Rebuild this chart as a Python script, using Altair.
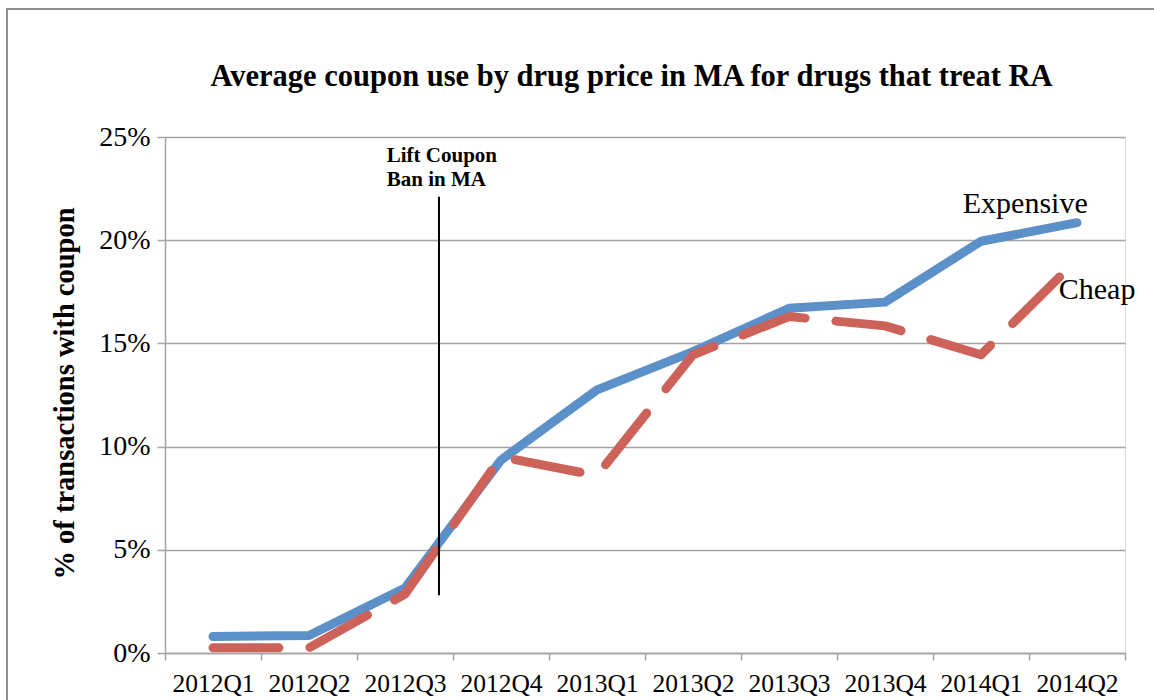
import altair as alt
import pandas as pd

# Quarterly share of RA drug transactions that used a coupon, Massachusetts
quarters = ["2012Q1", "2012Q2", "2012Q3", "2012Q4", "2013Q1",
            "2013Q2", "2013Q3", "2013Q4", "2014Q1", "2014Q2"]
expensive = [0.0080, 0.0085, 0.0315, 0.0935, 0.1275,
             0.1460, 0.1670, 0.1700, 0.1995, 0.2085]
cheap = [0.0025, 0.0025, 0.0285, 0.0950, 0.0860,
         0.1445, 0.1630, 0.1585, 0.1445, 0.1905]

# Direct labels for the two series
series_names = ["Expensive", "Cheap"]
series_label_quarter = ["2014Q1", "2014Q2"]
series_label_value = [0.2132, 0.1715]

# Policy-change marker
event_quarter = "2012Q3"
event_lines = ["Lift Coupon", "Ban in MA"]
event_line_value = [0.2377, 0.2264]
event_top = 0.221
event_bottom = 0.028

chart_title = "Average coupon use by drug price in MA for drugs that treat RA"

SERIF = "Liberation Serif"
GRID = "#a3a3a3"
BLUE = "#5b90c9"
RED = "#cc6259"

lines_df = pd.DataFrame({
    "quarter": quarters * 2,
    "value": expensive + cheap,
    "series": ["Expensive"] * len(quarters) + ["Cheap"] * len(quarters),
})
labels_df = pd.DataFrame({"quarter": series_label_quarter,
                          "value": series_label_value,
                          "text": series_names})
event_text_df = pd.DataFrame({"quarter": [event_quarter] * len(event_lines),
                              "value": event_line_value,
                              "text": event_lines})
event_rule_df = pd.DataFrame({"quarter": [event_quarter],
                              "value": [event_top], "value2": [event_bottom]})
single_df = pd.DataFrame({"text": [chart_title]})

x_axis = alt.Axis(
    title=None, labelAngle=0, tickBand="extent", grid=False,
    labelFont=SERIF, labelFontSize=25.5, labelColor="black",
    labelBaseline="alphabetic", labelPadding=31,
    tickSize=7, tickColor=GRID, tickWidth=1.5,
    domainColor=GRID, domainWidth=1.5,
)
y_axis = alt.Axis(
    values=[0, 0.05, 0.10, 0.15, 0.20, 0.25], format=".0%",
    title="% of transactions with coupon",
    titleFont=SERIF, titleFontSize=28.5, titleFontWeight="bold", titleColor="black",
    titleX=-101, titleY=256, titleBaseline="middle",
    labelFont=SERIF, labelFontSize=28, labelColor="black", labelPadding=7,
    tickSize=8, tickColor=GRID, tickWidth=1.5,
    grid=True, gridColor=GRID, gridWidth=1.5,
    domainColor=GRID, domainWidth=1.5,
)
x_scale = alt.Scale(type="band", domain=quarters, paddingInner=0, paddingOuter=0)
y_scale = alt.Scale(domain=[0, 0.25], nice=False, zero=True)


def x_enc(band=None):
    if band is None:
        return alt.X("quarter:N", scale=x_scale, axis=x_axis, sort=quarters)
    return alt.X("quarter:N", scale=x_scale, axis=x_axis, sort=quarters, bandPosition=band)


y_enc = alt.Y("value:Q", scale=y_scale, axis=y_axis)

base = alt.Chart(lines_df)

expensive_line = base.transform_filter(alt.datum.series == "Expensive").mark_line(
    color=BLUE, strokeWidth=9, strokeCap="round", strokeJoin="round"
).encode(x=x_enc(), y=y_enc)

cheap_line = base.transform_filter(alt.datum.series == "Cheap").mark_line(
    color=RED, strokeWidth=9, strokeCap="round", strokeJoin="round",
    strokeDash=[66, 31]
).encode(x=x_enc(), y=y_enc)

series_labels = alt.Chart(labels_df).mark_text(
    font=SERIF, fontSize=30, color="black", align="left", baseline="alphabetic"
).encode(x=x_enc(0.31), y=y_enc, text="text:N")

event_rule = alt.Chart(event_rule_df).mark_rule(color="black", strokeWidth=2).encode(
    x=x_enc(0.854), y=y_enc, y2="value2:Q"
)

event_text = alt.Chart(event_text_df).mark_text(
    font=SERIF, fontSize=21, fontWeight="bold", color="black",
    align="left", baseline="alphabetic"
).encode(x=x_enc(0.31), y=y_enc, text="text:N")

# Heading above the plot area and the thin frame around the whole figure
heading = alt.Chart(single_df).mark_text(
    font=SERIF, fontSize=30.5, fontWeight="bold", color="black",
    align="center", baseline="alphabetic"
).encode(x=alt.value(466.5), y=alt.value(-51), text="text:N")

outer_frame = alt.Chart(single_df).mark_rect(
    filled=False, stroke="#8e8e8e", strokeWidth=2
).encode(x=alt.value(-158), y=alt.value(-128), x2=alt.value(1010), y2=alt.value(600))

chart = alt.layer(
    outer_frame, heading, expensive_line, cheap_line, event_rule, event_text, series_labels
).properties(
    width=960, height=516,
    autosize=alt.AutoSizeParams(type="none"),
    padding={"left": 165, "top": 137, "right": 29, "bottom": 47},
).configure_view(stroke=None).configure(background="white")

chart.save("out.html", embed_options={"renderer": "svg", "actions": False})
